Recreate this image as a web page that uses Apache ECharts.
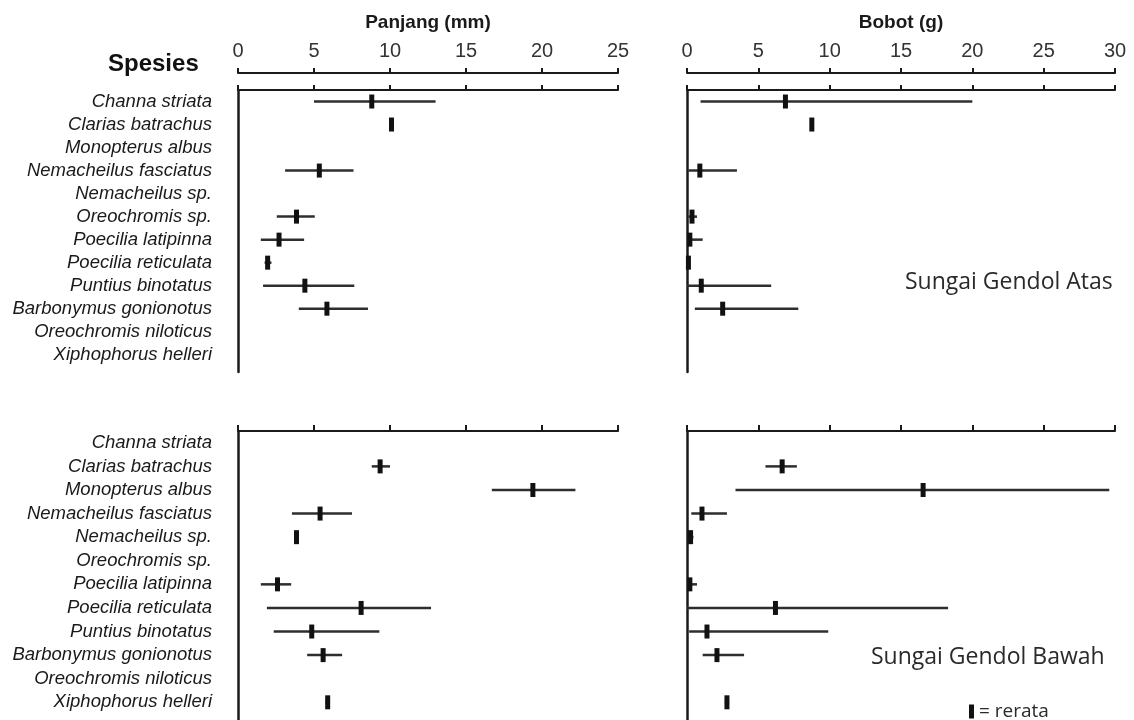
<!DOCTYPE html>
<html><head><meta charset="utf-8">
<script src="https://cdn.jsdelivr.net/npm/echarts@6/dist/echarts.min.js"></script>
<style>html,body{margin:0;padding:0;background:#fff}#c{width:1134px;height:720px}</style>
</head><body><div id="c"></div>
<script>
const species = ['Channa striata','Clarias batrachus','Monopterus albus','Nemacheilus fasciatus','Nemacheilus sp.','Oreochromis sp.','Poecilia latipinna','Poecilia reticulata','Puntius binotatus','Barbonymus gonionotus','Oreochromis niloticus','Xiphophorus helleri'];
const lenTicks = [0,5,10,15,20,25];
const wtTicks = [0,5,10,15,20,25,30];

// Sungai Gendol Atas - Panjang (mm)
const atasLenMin  = [5.0, 10.1, null, 3.1, null, 2.55, 1.5, 1.75, 1.65, 4.0, null, null];
const atasLenMean = [8.8, 10.1, null, 5.35, null, 3.85, 2.7, 1.95, 4.4, 5.85, null, null];
const atasLenMax  = [13.0, 10.1, null, 7.6, null, 5.05, 4.35, 2.2, 7.65, 8.55, null, null];
// Sungai Gendol Atas - Bobot (g)
const atasWtMin  = [0.95, 8.75, null, 0.1, null, 0.1, 0.0, 0.0, 0.0, 0.55, null, null];
const atasWtMean = [6.9, 8.75, null, 0.9, null, 0.35, 0.2, 0.1, 1.0, 2.5, null, null];
const atasWtMax  = [20.0, 8.75, null, 3.5, null, 0.7, 1.1, 0.2, 5.9, 7.8, null, null];
// Sungai Gendol Bawah - Panjang (mm)
const bawahLenMin  = [null, 8.8, 16.7, 3.55, 3.7, null, 1.5, 1.9, 2.35, 4.55, null, 5.75];
const bawahLenMean = [null, 9.35, 19.4, 5.4, 3.85, null, 2.6, 8.1, 4.85, 5.6, null, 5.9];
const bawahLenMax  = [null, 10.0, 22.2, 7.5, 3.95, null, 3.5, 12.7, 9.3, 6.85, null, 6.05];
// Sungai Gendol Bawah - Bobot (g)
const bawahWtMin  = [null, 5.5, 3.4, 0.3, 0.1, null, 0.0, 0.0, 0.15, 1.1, null, 2.65];
const bawahWtMean = [null, 6.67, 16.55, 1.05, 0.25, null, 0.2, 6.2, 1.4, 2.1, null, 2.8];
const bawahWtMax  = [null, 7.7, 29.6, 2.8, 0.45, null, 0.7, 18.3, 9.9, 4.0, null, 2.95];

function rows(mins, means, maxs) {
  const out = [];
  species.forEach((s, i) => { if (means[i] != null) out.push([mins[i], means[i], maxs[i], i + 0.5, s]); });
  return out;
}

const chart = echarts.init(document.getElementById('c'), null, {renderer: 'canvas'});
const FONT = 'Liberation Sans, Arial, sans-serif';

function xAx(grid, ticks, opts) {
  const o = {
    type: 'value', gridIndex: grid, position: 'top', offset: opts.offset || 0,
    min: ticks[0], max: ticks[ticks.length - 1], interval: ticks[1] - ticks[0],
    axisLine: {show: true, onZero: false, lineStyle: {color: '#1a1a1a', width: 2}},
    axisTick: {show: true, inside: false, length: opts.tickLen || 5, lineStyle: {color: '#1a1a1a', width: 2}},
    splitLine: {show: false},
    axisLabel: {show: !!opts.labels, fontFamily: FONT, fontSize: 20, color: '#333', margin: 12},
  };
  if (opts.name) {
    o.name = opts.name; o.nameLocation = 'middle'; o.nameGap = 41;
    o.nameTextStyle = {fontFamily: FONT, fontSize: 19, fontWeight: 'bold', color: '#1a1a1a'};
  }
  return o;
}
function yAx(grid, showLabels) {
  return {
    type: 'value', gridIndex: grid, inverse: true, min: 0, max: 12.25, interval: 0.5,
    axisLine: {show: true, onZero: false, lineStyle: {color: '#1a1a1a', width: 2.5}},
    axisTick: {show: false}, splitLine: {show: false},
    axisLabel: {
      show: showLabels, margin: 26, fontFamily: FONT, fontSize: 18.5, fontStyle: 'italic', color: '#1a1a1a',
      padding: [0, 0, 5, 0],
      formatter: v => {
        const i = Math.round(v - 0.5);
        if (Math.abs(v - (i + 0.5)) < 1e-6 && i >= 0 && i < species.length) return species[i];
        return '';
      }
    }
  };
}
function series(xi, yi, data) {
  return {
    type: 'custom', name: '= rerata', xAxisIndex: xi, yAxisIndex: yi, data: data,
    encode: {x: [0, 1, 2], y: 3}, clip: false,
    renderItem: (params, api) => {
      const y = api.value(3);
      const a = api.coord([api.value(0), y]);
      const m = api.coord([api.value(1), y]);
      const b = api.coord([api.value(2), y]);
      const children = [];
      if (b[0] - a[0] > 0.5) {
        children.push({type: 'line', shape: {x1: a[0], y1: a[1], x2: b[0], y2: b[1]}, style: {stroke: '#2e2e2e', lineWidth: 2.5}});
      }
      children.push({type: 'rect', shape: {x: m[0] - 2.5, y: m[1] - 7, width: 5, height: 14}, style: {fill: '#111'}});
      return {type: 'group', children: children};
    }
  };
}

chart.setOption({
  animation: false,
  backgroundColor: '#fff',
  title: [
    {text: 'Spesies', left: 103, top: 47, textStyle: {fontFamily: FONT, fontSize: 24, fontWeight: 'bold', color: '#111'}},
    {text: 'Sungai Gendol Atas', left: 900, top: 266, textStyle: {fontFamily: 'Open Sans, sans-serif', fontSize: 23, fontWeight: 'normal', color: '#2a2a2a'}},
    {text: 'Sungai Gendol Bawah', left: 866, top: 641, textStyle: {fontFamily: 'Open Sans, sans-serif', fontSize: 23, fontWeight: 'normal', color: '#2a2a2a'}}
  ],
  legend: {
    data: ['= rerata'], left: 964, top: 697, icon: 'rect', itemWidth: 5, itemHeight: 14, itemGap: 8,
    textStyle: {fontFamily: 'Open Sans, sans-serif', fontSize: 19, color: '#2a2a2a'},
    itemStyle: {color: '#111'}
  },
  grid: [
    {left: 238, top: 90, width: 380, height: 282},
    {left: 687, top: 90, width: 428, height: 282},
    {left: 238, top: 431, width: 380, height: 289},
    {left: 687, top: 431, width: 428, height: 289}
  ],
  xAxis: [
    xAx(0, lenTicks, {}),
    xAx(0, lenTicks, {offset: 17, labels: true, name: 'Panjang (mm)'}),
    xAx(1, wtTicks, {}),
    xAx(1, wtTicks, {offset: 17, labels: true, name: 'Bobot (g)'}),
    xAx(2, lenTicks, {tickLen: 6}),
    xAx(3, wtTicks, {tickLen: 6})
  ],
  yAxis: [yAx(0, true), yAx(1, false), yAx(2, true), yAx(3, false)],
  series: [
    series(0, 0, rows(atasLenMin, atasLenMean, atasLenMax)),
    series(2, 1, rows(atasWtMin, atasWtMean, atasWtMax)),
    series(4, 2, rows(bawahLenMin, bawahLenMean, bawahLenMax)),
    series(5, 3, rows(bawahWtMin, bawahWtMean, bawahWtMax))
  ]
});
</script></body></html>
